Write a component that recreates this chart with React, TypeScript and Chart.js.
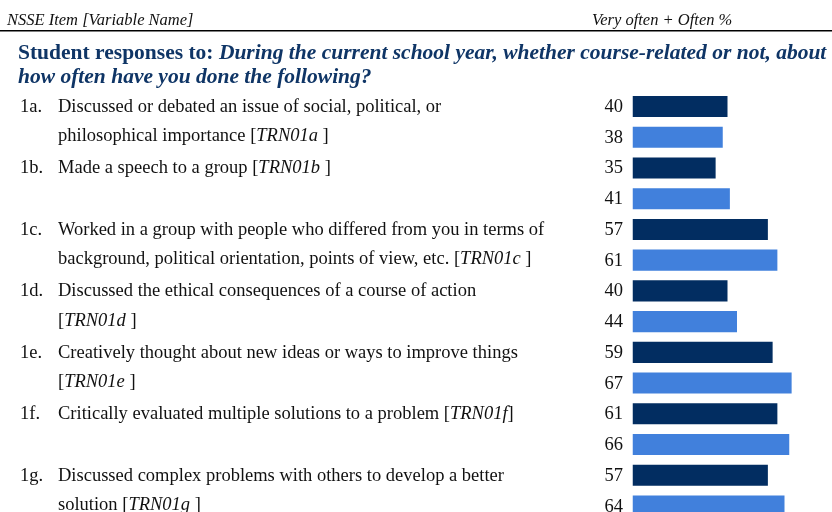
import React, { useEffect, useRef } from "react";
import { Chart, registerables } from "chart.js";

Chart.register(...registerables);

const headerLeft = "NSSE Item [Variable Name]";
const headerRight = "Very often + Often %";
const titleLead = "Student responses to: ";
const titleLines = [
  "During the current school year, whether course-related or not, about",
  "how often have you done the following?",
];

const itemCodes = ["1a.", "1b.", "1c.", "1d.", "1e.", "1f.", "1g."];
const itemLines: string[][] = [
  ["Discussed or debated an issue of social, political, or", "philosophical importance"],
  ["Made a speech to a group"],
  ["Worked in a group with people who differed from you in terms of", "background, political orientation, points of view, etc."],
  ["Discussed the ethical consequences of a course of action", ""],
  ["Creatively thought about new ideas or ways to improve things", ""],
  ["Critically evaluated multiple solutions to a problem"],
  ["Discussed complex problems with others to develop a better", "solution"],
];
const variableNames = ["TRN01a", "TRN01b", "TRN01c", "TRN01d", "TRN01e", "TRN01f", "TRN01g"];
const variableClose = [" ]", " ]", " ]", " ]", " ]", "]", " ]"];

const seriesDark = [40, 35, 57, 40, 59, 61, 57];
const seriesLight = [38, 41, 61, 44, 67, 66, 64];

const DARK = "#022d61";
const LIGHT = "#4180dc";
const NAVY = "#0f3566";
const SERIF = '"Liberation Serif", "Times New Roman", serif';

const rowLabels: string[] = [];
const darkRows: (number | null)[] = [];
const lightRows: (number | null)[] = [];
itemCodes.forEach((c, i) => {
  rowLabels.push(c + " a", c + " b");
  darkRows.push(seriesDark[i], null);
  lightRows.push(null, seriesLight[i]);
});

const textPlugin = {
  id: "textPlugin",
  afterDraw(chart: any) {
    const ctx: CanvasRenderingContext2D = chart.ctx;
    const y = chart.scales.y;
    ctx.save();
    // header
    ctx.fillStyle = "#111";
    ctx.textBaseline = "alphabetic";
    ctx.textAlign = "left";
    ctx.font = `italic 16.5px ${SERIF}`;
    ctx.fillText(headerLeft, 7, 24.5);
    ctx.fillText(headerRight, 592, 24.5);
    ctx.strokeStyle = "#000";
    ctx.lineWidth = 1.6;
    ctx.beginPath();
    ctx.moveTo(0, 30.8);
    ctx.lineTo(832, 30.8);
    ctx.stroke();

    // title
    ctx.fillStyle = NAVY;
    ctx.font = `bold 21.5px ${SERIF}`;
    ctx.fillText(titleLead, 18, 59);
    const leadW = ctx.measureText(titleLead).width;
    ctx.font = `italic bold 21.5px ${SERIF}`;
    ctx.fillText(titleLines[0], 18 + leadW, 59);
    ctx.fillText(titleLines[1], 18, 83);

    // items
    const size = 18.5;
    itemCodes.forEach((code, i) => {
      const y1 = y.getPixelForValue(2 * i);
      const y2 = y.getPixelForValue(2 * i + 1);
      ctx.fillStyle = "#111";
      ctx.font = `${size}px ${SERIF}`;
      ctx.fillText(code, 20, y1 + 5.5);
      const lines = itemLines[i];
      lines.forEach((ln, k) => {
        const by = k === 0 ? y1 + 5.5 : y2 + 4;
        let x = 58;
        ctx.font = `${size}px ${SERIF}`;
        if (k < lines.length - 1) {
          ctx.fillText(ln, x, by);
          return;
        }
        const pre = (ln ? ln + " " : "") + "[";
        ctx.fillText(pre, x, by);
        x += ctx.measureText(pre).width;
        ctx.font = `italic ${size}px ${SERIF}`;
        ctx.fillText(variableNames[i], x, by);
        x += ctx.measureText(variableNames[i]).width;
        ctx.font = `${size}px ${SERIF}`;
        ctx.fillText(variableClose[i], x, by);
      });
      // values
      ctx.textAlign = "right";
      ctx.fillText(String(seriesDark[i]), 623, y1 + 5.5);
      ctx.fillText(String(seriesLight[i]), 623, y2 + 5.5);
      ctx.textAlign = "left";
    });
    ctx.restore();
  },
};

export default function App() {
  const ref = useRef<HTMLCanvasElement | null>(null);
  useEffect(() => {
    if (!ref.current) return;
    const chart = new Chart(ref.current, {
      type: "bar",
      data: {
        labels: rowLabels,
        datasets: [
          { label: "Dark", data: darkRows, backgroundColor: DARK, grouped: false, barPercentage: 0.685, categoryPercentage: 1 } as any,
          { label: "Light", data: lightRows, backgroundColor: LIGHT, grouped: false, barPercentage: 0.685, categoryPercentage: 1 } as any,
        ],
      },
      options: {
        indexAxis: "y",
        animation: false,
        responsive: false,
        devicePixelRatio: 1,
        layout: { padding: { left: 632.5, right: 0, top: 91.1, bottom: 540 - 521.4 } },
        plugins: { legend: { display: false }, tooltip: { enabled: false } },
        scales: {
          x: { display: false, min: 0, max: 84 },
          y: { display: false },
        },
      },
      plugins: [textPlugin],
    });
    return () => chart.destroy();
  }, []);
  return (
    <div style={{ position: "fixed", left: 0, top: 0, width: 832, height: 512, overflow: "hidden", background: "#fff" }}>
      <canvas ref={ref} width={832} height={540} style={{ width: 832, height: 540, display: "block" }} />
    </div>
  );
}
